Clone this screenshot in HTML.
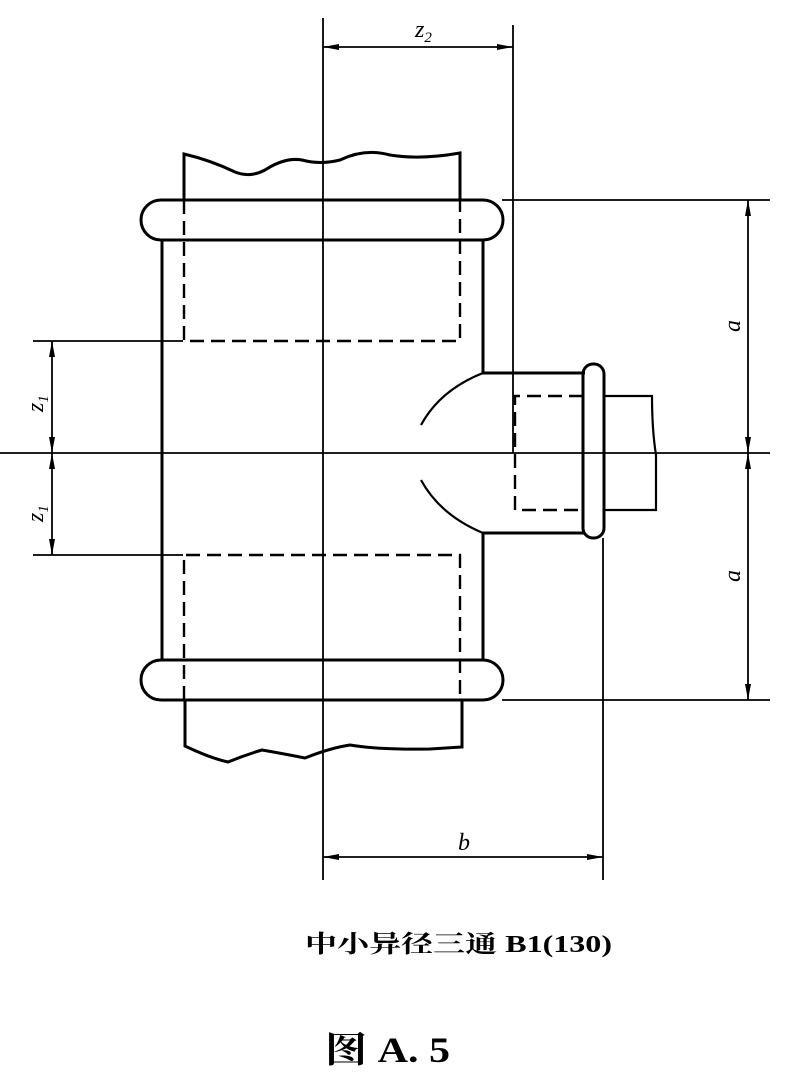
<!DOCTYPE html>
<html><head><meta charset="utf-8"><style>
html,body{margin:0;padding:0;background:#fff;}
svg{display:block;}
</style></head><body>
<svg width="802" height="1086" viewBox="0 0 802 1086" xmlns="http://www.w3.org/2000/svg">
<defs>
<marker id="ar" viewBox="0 0 16 6" refX="16" refY="3" markerWidth="16" markerHeight="6" markerUnits="userSpaceOnUse" orient="auto-start-reverse">
<path d="M0,0 L16,3 L0,6 z" fill="#000"/></marker>
</defs>
<g stroke="#000" fill="none">
<g stroke-width="1.8">
<line x1="323" y1="18" x2="323" y2="880"/>
<line x1="513" y1="25" x2="513" y2="453"/>
<line x1="603" y1="538" x2="603" y2="880"/>
<line x1="502" y1="200" x2="770" y2="200"/>
<line x1="502" y1="700" x2="770" y2="700"/>
<line x1="0" y1="453" x2="770" y2="453"/>
<line x1="33" y1="341" x2="183" y2="341"/>
<line x1="33" y1="555" x2="183" y2="555"/>
<line x1="323" y1="47" x2="513" y2="47" marker-start="url(#ar)" marker-end="url(#ar)"/>
<line x1="323" y1="857" x2="603" y2="857" marker-start="url(#ar)" marker-end="url(#ar)"/>
<line x1="748" y1="200" x2="748" y2="453" marker-start="url(#ar)" marker-end="url(#ar)"/>
<line x1="748" y1="453" x2="748" y2="700" marker-start="url(#ar)" marker-end="url(#ar)"/>
<line x1="52" y1="341" x2="52" y2="453" marker-start="url(#ar)" marker-end="url(#ar)"/>
<line x1="52" y1="453" x2="52" y2="555" marker-start="url(#ar)" marker-end="url(#ar)"/>
</g>
<g stroke-width="3">
<path d="M184,200 L184,154 Q210,160 235,172 Q250,178 265,170 Q285,157 302,160 Q320,165 340,160 Q365,148 390,155 Q420,160 460,153 L460,200"/>
<path d="M185,700 L185,746 Q210,758 228,762 Q245,755 262,750 Q285,754 305,758 Q330,748 350,745 Q380,750 430,749 L462,747 L462,700"/>
<path d="M162,240 L162,660"/>
<path d="M483,240 L483,373 L585,373"/>
<path d="M483,660 L483,533 L585,533"/>
<path d="M483,373 Q440,390 421,425" stroke-width="2.2"/>
<path d="M421,480 Q440,515 483,533" stroke-width="2.2"/>
<rect x="141" y="200" width="362" height="40" rx="20" ry="20"/>
<rect x="141" y="660" width="362" height="40" rx="20" ry="20"/>
<rect x="583" y="364" width="21" height="174" rx="10" ry="10"/>
</g>
<path d="M604,396 L652,396 Q652,430 656,455 L656,510 L604,510" stroke-width="2.2"/>
<g stroke-width="2.4" stroke-dasharray="14,7">
<path d="M184,200 L184,341 L460,341 L460,200"/>
<path d="M184,700 L184,555 L460,555 L460,700"/>
<path d="M583,396 L515,396 L515,510 L583,510"/>
</g>
</g>
<g font-family="Liberation Serif, serif" font-style="italic" font-size="24" fill="#000">
<text x="415" y="37">z<tspan font-size="15" dy="5">2</tspan></text>
<text x="458" y="850">b</text>
<text transform="translate(740,332) rotate(-90)">a</text>
<text transform="translate(740,582) rotate(-90)">a</text>
<text transform="translate(43,412) rotate(-90)">z<tspan font-size="15" dy="5">1</tspan></text>
<text transform="translate(43,522) rotate(-90)">z<tspan font-size="15" dy="5">1</tspan></text>
</g>
<text x="305" y="952" textLength="307" lengthAdjust="spacingAndGlyphs" font-family="Liberation Serif, Noto Serif CJK SC, serif" font-weight="bold" font-size="24" fill="#000">中小异径三通  B1(130)</text>
<text x="325" y="1062" textLength="125" lengthAdjust="spacingAndGlyphs" font-family="Liberation Serif, Noto Serif CJK SC, serif" font-weight="bold" font-size="36" fill="#000">图 A. 5</text>
</svg>
</body></html>
